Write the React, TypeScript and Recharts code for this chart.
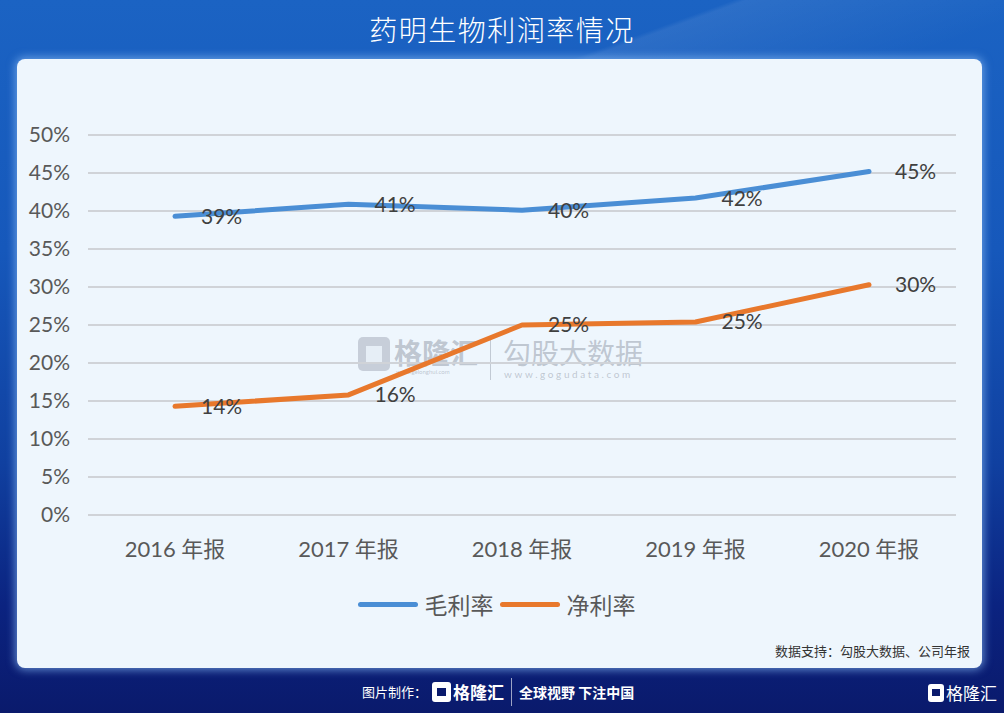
import { LineChart, Line, XAxis, YAxis, CartesianGrid, Legend, LabelList } from 'recharts';

const categories = ['2016 年报', '2017 年报', '2018 年报', '2019 年报', '2020 年报'];
const grossMargin = [39.3, 40.9, 40.1, 41.7, 45.2];
const netMargin = [14.3, 15.8, 25.0, 25.4, 30.3];
const yTicks = [0, 5, 10, 15, 20, 25, 30, 35, 40, 45, 50];
const seriesNames = ['毛利率', '净利率'];

const BLUE = '#4a8ed5';
const ORANGE = '#e8782c';
const CJK = "'Noto Sans CJK SC', sans-serif";
const LATIN = "Lato, 'Noto Sans CJK SC', sans-serif";

const data = categories.map((name, i) => ({
  name,
  gross: grossMargin[i],
  net: netMargin[i],
}));

function LegendContent({ payload }: { payload?: Array<{ value: string; color: string }> }) {
  const items = [...(payload ?? [])].sort((a, b) => seriesNames.indexOf(a.value) - seriesNames.indexOf(b.value));
  return (
    <div style={{ display: 'flex', justifyContent: 'center', alignItems: 'center', height: 40, paddingLeft: 0 }}>
      {items.map((p) => (
        <div key={p.value} style={{ display: 'flex', alignItems: 'center', marginRight: 6 }}>
          <div style={{ width: 60, height: 5, borderRadius: 3, background: p.color, marginRight: 7 }} />
          <span style={{ fontFamily: CJK, fontSize: 23, color: '#595959', lineHeight: '40px' }}>{p.value}</span>
        </div>
      ))}
    </div>
  );
}

export default function App() {
  return (
    <div
      style={{
        position: 'absolute',
        left: 0,
        top: 0,
        width: 1004,
        height: 713,
        overflow: 'hidden',
        background: 'linear-gradient(180deg, #1b63c3 0%, #1658bb 35%, #1040a0 65%, #0b2380 85%, #0a1a6c 100%)',
      }}
    >
      {/* light diagonal streaks */}
      <div
        style={{
          position: 'absolute',
          left: 0,
          top: 0,
          width: 1004,
          height: 120,
          background: 'linear-gradient(160deg, rgba(255,255,255,0) 55%, rgba(255,255,255,0.08) 56%, rgba(255,255,255,0) 80%)',
        }}
      />
      <div
        style={{
          position: 'absolute',
          left: 0,
          top: 9,
          width: 1004,
          textAlign: 'center',
          fontFamily: CJK,
          fontSize: 28,
          fontWeight: 300,
          color: '#ffffff',
          letterSpacing: 1.5,
        }}
      >
        药明生物利润率情况
      </div>

      {/* panel */}
      <div
        style={{
          position: 'absolute',
          left: 17,
          top: 59,
          width: 965,
          height: 609,
          borderRadius: 8,
          background: '#eef6fd',
          boxShadow: '0 0 8px 2px rgba(130,180,240,0.7)',
        }}
      />

      {/* watermark */}
      <div style={{ position: 'absolute', left: 358, top: 334, width: 300, height: 50, color: 'rgba(150,158,172,0.55)' }}>
        <div style={{ position: 'absolute', left: 0, top: 3, width: 32, height: 34, borderRadius: 5, background: 'rgba(150,158,172,0.45)' }} />
        <div style={{ position: 'absolute', left: 8, top: 12, width: 16, height: 16, background: '#eef6fd', opacity: 0.8 }} />
        <div style={{ position: 'absolute', left: 36, top: 3, fontFamily: CJK, fontSize: 28, fontWeight: 700, lineHeight: '30px' }}>
          格隆汇
        </div>
        <div style={{ position: 'absolute', left: 38, top: 34, fontFamily: LATIN, fontSize: 6, lineHeight: '7px' }}>www.gelonghui.com</div>
        <div style={{ position: 'absolute', left: 132, top: 2, width: 1, height: 44, background: 'rgba(150,158,172,0.5)' }} />
        <div style={{ position: 'absolute', left: 145, top: 3, fontFamily: CJK, fontSize: 28, lineHeight: '30px' }}>勾股大数据</div>
        <div style={{ position: 'absolute', left: 146, top: 34, fontFamily: LATIN, fontSize: 10, letterSpacing: 2.6, lineHeight: '12px' }}>
          www.gogudata.com
        </div>
      </div>

      <div style={{ position: 'absolute', left: 17, top: 59 }}>
        <LineChart width={965} height={609} data={data} margin={{ top: 76, right: 26, bottom: 44, left: 0 }}>
          <CartesianGrid horizontal vertical={false} stroke="#d0d3d8" strokeWidth={2} />
          <XAxis
            dataKey="name"
            axisLine={false}
            tickLine={false}
            padding={{ left: 87, right: 87 }}
            height={69}
            tickMargin={20}
            tick={{ fontFamily: LATIN, fontSize: 22, fill: '#595959' }}
          />
          <YAxis
            domain={[0, 50]}
            ticks={yTicks}
            width={71}
            axisLine={false}
            tickLine={false}
            tickMargin={12}
            tickFormatter={(v: number) => `${v}%`}
            tick={{ fontFamily: LATIN, fontSize: 21, fill: '#595959' }}
          />
          <Legend verticalAlign="bottom" content={<LegendContent />} wrapperStyle={{ left: 0, width: 965 }} />
          <Line
            name="毛利率"
            dataKey="gross"
            type="linear"
            stroke={BLUE}
            strokeWidth={5}
            strokeLinecap="round"
            strokeLinejoin="round"
            dot={false}
            activeDot={false}
            isAnimationActive={false}
          >
            <LabelList
              dataKey="gross"
              position="right"
              offset={26}
              formatter={(v: number) => `${Math.round(v)}%`}
              style={{ fontFamily: LATIN, fontSize: 21, fill: '#404040' }}
            />
          </Line>
          <Line
            name="净利率"
            dataKey="net"
            type="linear"
            stroke={ORANGE}
            strokeWidth={5}
            strokeLinecap="round"
            strokeLinejoin="round"
            dot={false}
            activeDot={false}
            isAnimationActive={false}
          >
            <LabelList
              dataKey="net"
              position="right"
              offset={26}
              formatter={(v: number) => `${Math.round(v)}%`}
              style={{ fontFamily: LATIN, fontSize: 21, fill: '#404040' }}
            />
          </Line>
        </LineChart>
      </div>

      <div
        style={{
          position: 'absolute',
          right: 34,
          top: 641,
          fontFamily: CJK,
          fontSize: 13,
          color: '#333333',
        }}
      >
        数据支持：勾股大数据、公司年报
      </div>

      {/* footer */}
      <div style={{ position: 'absolute', left: 362, top: 682, fontFamily: CJK, fontSize: 13, color: '#ffffff' }}>图片制作：</div>
      <div style={{ position: 'absolute', left: 432, top: 682, width: 19, height: 20, borderRadius: 3, background: '#ffffff' }} />
      <div style={{ position: 'absolute', left: 437, top: 688, width: 9, height: 8, background: '#0a1a6c' }} />
      <div style={{ position: 'absolute', left: 453, top: 679, fontFamily: CJK, fontSize: 17, fontWeight: 700, color: '#ffffff' }}>格隆汇</div>
      <div style={{ position: 'absolute', left: 511, top: 678, width: 1, height: 28, background: 'rgba(255,255,255,0.6)' }} />
      <div style={{ position: 'absolute', left: 519, top: 682, fontFamily: CJK, fontSize: 14, fontWeight: 700, color: '#ffffff' }}>
        全球视野 下注中国
      </div>
      <div style={{ position: 'absolute', left: 928, top: 684, width: 16, height: 18, borderRadius: 3, background: '#ffffff' }} />
      <div style={{ position: 'absolute', left: 932, top: 689, width: 8, height: 7, background: '#0a1a6c' }} />
      <div style={{ position: 'absolute', left: 946, top: 680, fontFamily: CJK, fontSize: 17, color: '#ffffff' }}>格隆汇</div>
    </div>
  );
}
